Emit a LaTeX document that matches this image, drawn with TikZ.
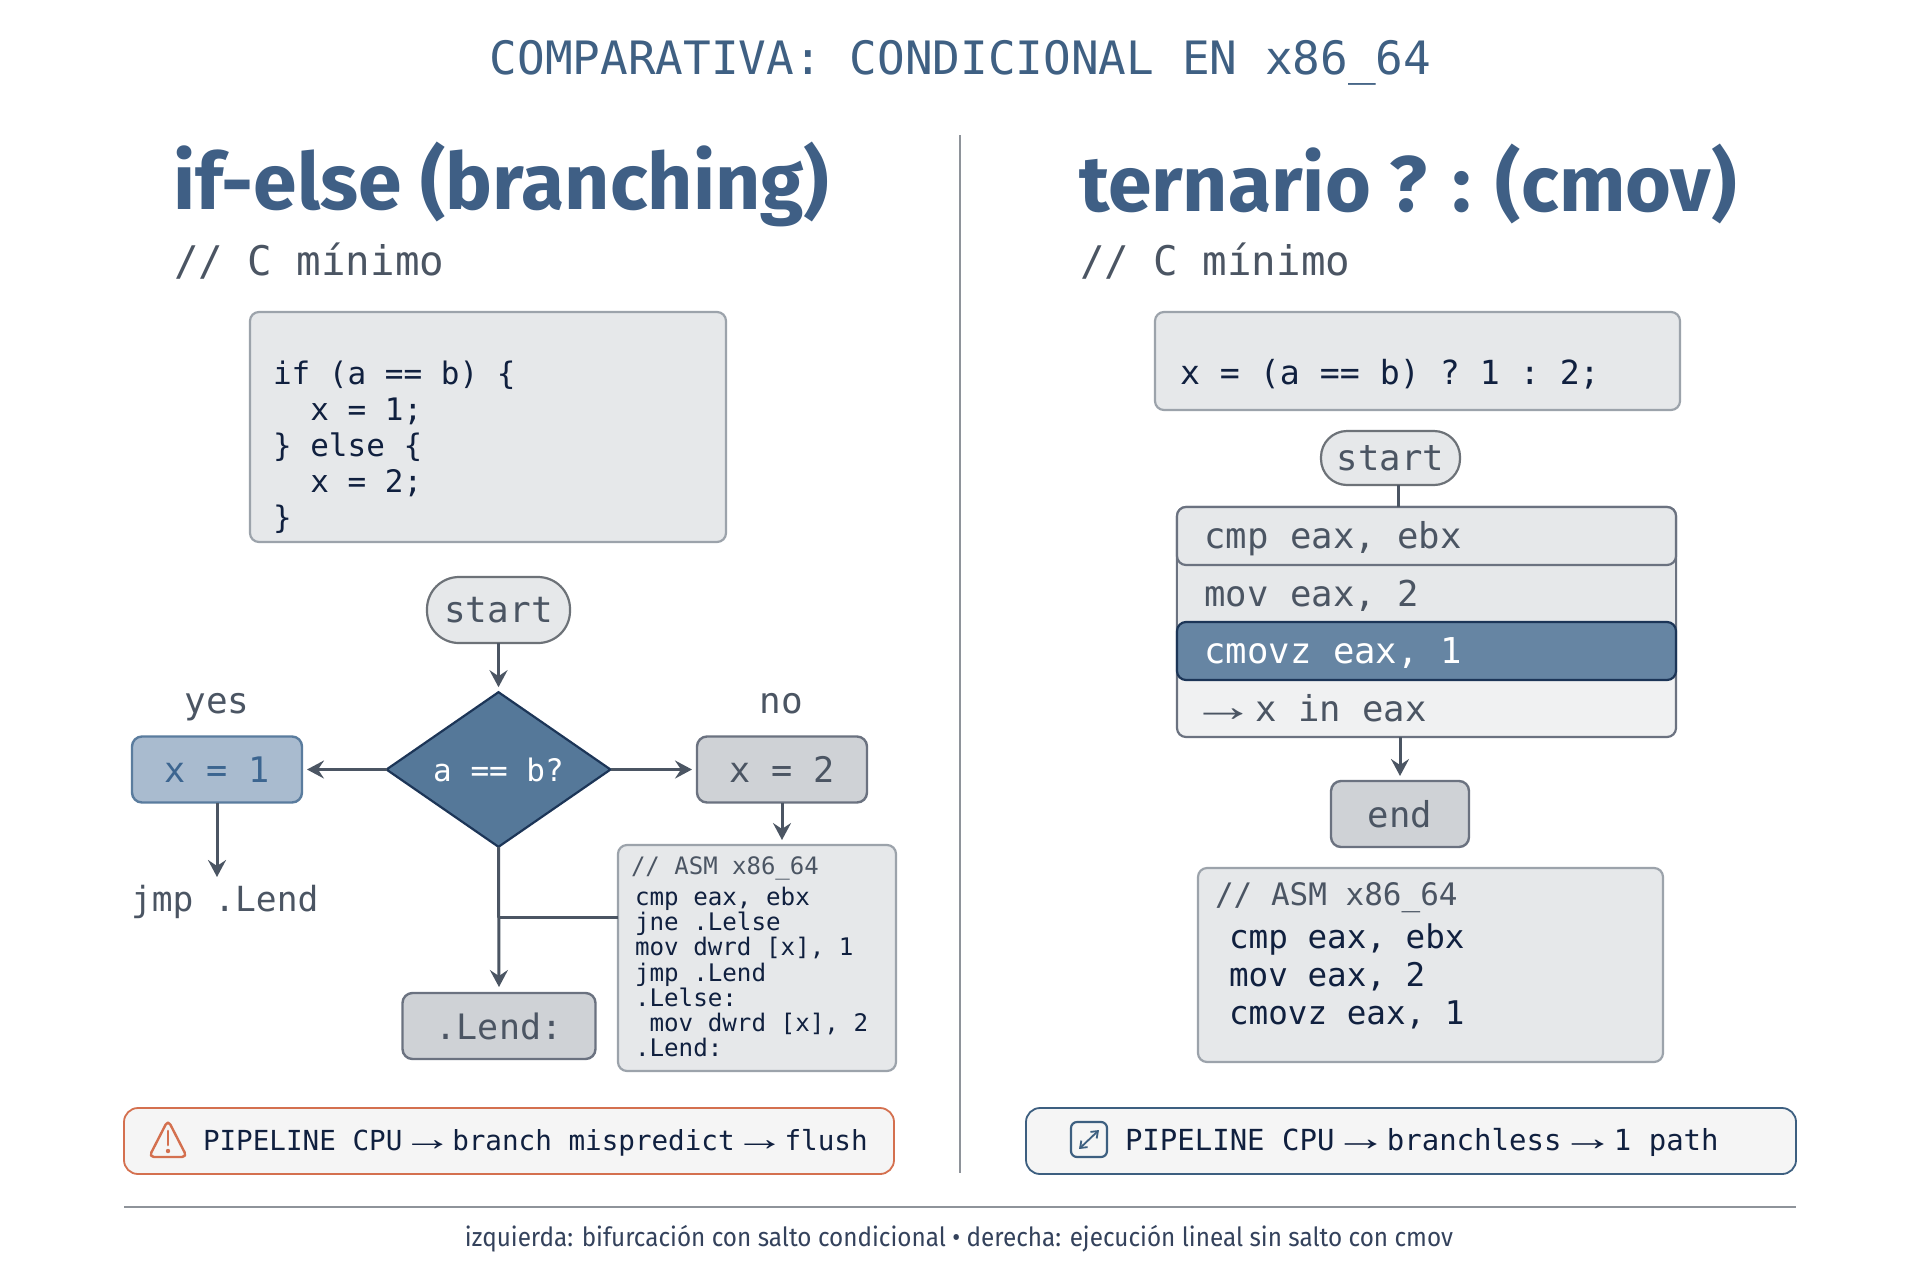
\documentclass[tikz,border=0pt]{standalone}
\usepackage{fontspec}
\usepackage{graphicx}
\setmainfont{Fira Sans}
\setmonofont{DejaVu Sans Mono}
\newfontfamily\footf[FakeStretch=0.92]{Fira Sans}
\newfontfamily\arrf{Liberation Sans}
\newcommand\longarr{\makebox[0.602em][c]{\scalebox{1.85}[1.25]{\arrf →}}}
\usetikzlibrary{arrows.meta,shapes.geometric,calc}
\definecolor{navy}{HTML}{10203F}
\definecolor{slate}{HTML}{4B5563}
\definecolor{head}{HTML}{3F5F85}
\definecolor{titlec}{HTML}{3F6083}
\definecolor{boxf}{HTML}{E6E8EA}
\definecolor{boxd}{HTML}{9CA3AB}
\definecolor{greyf}{HTML}{CFD2D6}
\definecolor{greyd}{HTML}{6B7280}
\definecolor{bluef}{HTML}{A9BBCF}
\definecolor{blued}{HTML}{5A7C9E}
\definecolor{bluet}{HTML}{3C6590}
\definecolor{deep}{HTML}{557899}
\definecolor{deepd}{HTML}{1C3557}
\definecolor{bannerd}{HTML}{3D5F80}
\definecolor{orange}{HTML}{D4704F}
\definecolor{pill}{HTML}{F5F5F5}
\definecolor{rule}{HTML}{8E939A}
\tikzset{
  mono/.style 2 args={font=\ttfamily\fontsize{#1pt}{#2pt}\selectfont},
  txt/.style={inner sep=0pt,outer sep=0pt},
  dims/.style 2 args={minimum width=#1*0.5pt,minimum height=#2*0.5pt,inner sep=0pt,outer sep=0pt},
  panel/.style={draw=boxd,fill=boxf,line width=1.1pt,rounded corners=4.5pt},
  solidgrey/.style={draw=greyd,fill=greyf,line width=1.2pt,rounded corners=5pt,text=slate},
  soliddeep/.style={draw=deepd,fill=deep,line width=1.1pt,text=white},
  link/.style={draw=slate,line width=1.5pt},
  arr/.style={link,-{Stealth[length=8.5pt,width=9pt,inset=3pt]}},
  banner/.style={line width=.9pt,fill=pill,rounded corners=7pt},
  row/.style={inner ysep=0pt,inner xsep=0pt,outer sep=0pt,text width=222pt,align=flush left,text height=14pt,text depth=1.8pt}
}
\begin{document}
\begin{tikzpicture}[x=0.5pt,y=-0.5pt]
\fill[white] (0,0) rectangle (1920,1280);
\useasboundingbox (0,0) rectangle (1920,1280);

\node[txt,mono={23}{24},text=titlec] (title) at (960.5,63) {COMPARATIVA: CONDICIONAL EN x86\_64};
\node[txt,anchor=west,font=\fontsize{39.3pt}{44pt}\selectfont\bfseries,text=head] (headl) at (173,184) {if-else (branching)};
\node[txt,anchor=west,font=\fontsize{39.3pt}{44pt}\selectfont\bfseries,text=head] (headr) at (1079,184) {ternario ? : (cmov)};
\node[txt,anchor=mid west,mono={20.4}{24},text=slate] (cl) at (174,270) {// C mínimo};
\node[txt,anchor=mid west,mono={20.4}{24},text=slate] (cr) at (1080,270) {// C mínimo};

\coordinate (divt) at (960,135);
\coordinate (divb) at (960,1173);
\draw[draw=rule,line width=1pt] (divt) -- (divb);

% left
\node[panel,dims={476}{230}] (codel) at (488,427) {};
\node[txt,anchor=west,align=left,mono={15.5}{18},text=navy] (codeltxt) at (273,447)
  {if (a == b) \{\\\phantom{xx}x = 1;\\\} else \{\\\phantom{xx}x = 2;\\\}};
\node[dims={143}{66},draw=boxd!70!black,fill=boxf,line width=1.1pt,rounded corners=16pt,mono={18}{20},text=slate] (startl) at (498.5,610) {start};
\node[diamond,soliddeep,dims={224}{144},mono={15.5}{18}] (dia) at (498.5,769.5) {a == b?};
\node[dims={170}{66},draw=blued,fill=bluef,line width=1.2pt,rounded corners=5pt,mono={17.6}{20},text=bluet] (xone) at (217,769.5) {x = 1};
\node[solidgrey,dims={170}{66},mono={17.6}{20}] (xtwo) at (782,769.5) {x = 2};
\node[txt,anchor=mid,mono={18}{20},text=slate] (yes) at (217,708) {yes};
\node[txt,anchor=mid,mono={18}{20},text=slate] (no) at (781,708) {no};
\node[txt,anchor=mid west,mono={17.3}{20},text=slate] (jmp) at (131,906) {jmp .Lend};
\node[solidgrey,dims={193}{66},mono={17.5}{20}] (lend) at (499,1026) {.Lend:};
\node[panel,dims={278}{226}] (asml) at (757,958) {};
\node[txt,anchor=mid west,mono={12}{14},text=slate] (asmlh) at (631,869) {// ASM x86\_64};
\node[txt,anchor=west,align=left,mono={12.1}{12.6},text=navy] (asmlc) at (635,972)
  {cmp eax, ebx\\jne .Lelse\\mov dwrd [x], 1\\jmp .Lend\\.Lelse:\\\phantom{x}mov dwrd [x], 2\\.Lend:};
\coordinate (joinl) at (dia.south |- 0,917);

\draw[arr,shorten >=2.5pt] (startl) -- (dia.north);
\draw[arr,shorten >=2.5pt] (dia.west) -- (xone.east);
\draw[arr,shorten >=2.5pt] (dia.east) -- (xtwo.west);
\draw[arr] (xone.south) -- ($(xone.south |- jmp.north)+(0,-8)$);
\draw[arr,shorten >=2.5pt] (xtwo.south) -- (xtwo.south |- asml.north);
\draw[arr,shorten >=3pt] (dia.south) -- (lend.north);
\draw[link] (asml.west |- joinl) -- (joinl);

\node[banner,draw=orange,dims={770}{66}] (warn) at (509,1141) {};
\draw[orange,line width=1.2pt,line join=round,rounded corners=2.5pt] (168,1120) -- (187,1157) -- (149,1157) -- cycle;
\draw[orange,line width=1.3pt,line cap=round] (168,1131) -- (168,1145);
\fill[orange] (168,1151) circle (1.1pt);
\node[txt,anchor=mid west,mono={13.8}{16},text=navy] (warnt) at (203,1145) {PIPELINE CPU \longarr{} branch mispredict \longarr{} flush};

% right
\node[panel,dims={525}{98}] (coder) at (1417.5,361) {};
\node[txt,anchor=mid west,mono={16.6}{18},text=navy] (codertxt) at (1180,379) {x = (a == b) ? 1 : 2;};
\node[dims={139}{54},draw=boxd!70!black,fill=boxf,line width=1.1pt,rounded corners=13pt,mono={17.8}{20},text=slate] (startr) at (1390.5,458) {start};

\node[draw=greyd,fill=boxf!60!white,line width=1.1pt,rounded corners=4.5pt,dims={499}{230}] (stack) at (1426.5,622) {};
\fill[boxf] (stack.west |- 0,540) rectangle (stack.east |- 0,640);
\draw[greyd,line width=1.1pt] (stack.west |- 0,540) -- (stack.west |- 0,640) (stack.east |- 0,540) -- (stack.east |- 0,640);
\node[draw=greyd,fill=boxf,line width=1.1pt,rounded corners=4.5pt,dims={499}{58},row,mono={17.8}{20},text=slate] (rowa) at (1426.5,536) {cmp eax, ebx};
\node[dims={499}{57},row,mono={17.8}{20},text=slate] (rowb) at (1426.5,594) {mov eax, 2};
\node[draw=deepd,fill=deep!90!white,line width=1.1pt,rounded corners=4.5pt,dims={499}{58},row,mono={17.8}{20},text=white] (rowc) at (1426.5,651) {cmovz eax, 1};
\node[dims={499}{57},row,mono={17.8}{20},text=slate] (rowd) at (1426.5,709) {\hspace*{.22em}\longarr{} x in eax};

\coordinate (joinr) at (1398,0);
\draw[link] (startr.south -| joinr) -- (stack.north -| joinr);
\node[solidgrey,dims={138}{66},mono={17.8}{20}] (endb) at (1400,814) {end};
\draw[arr,shorten >=2.5pt] (endb.north |- stack.south) -- (endb.north);
\node[panel,dims={465}{194}] (asmr) at (1430.5,965) {};
\node[txt,anchor=mid west,mono={15.5}{18},text=slate] (asmrh) at (1215,900) {// ASM x86\_64};
\node[txt,anchor=west,align=left,mono={16.3}{19},text=navy] (asmrc) at (1229,976)
  {cmp eax, ebx\\mov eax, 2\\cmovz eax, 1};

\node[banner,draw=bannerd,dims={770}{66}] (flow) at (1411,1141) {};
\draw[bannerd,line width=1.1pt,rounded corners=3pt] (1071,1122) rectangle (1107,1157);
\draw[bannerd,line width=.9pt,{Straight Barb[length=3pt,width=4.5pt]}-{Straight Barb[length=3pt,width=4.5pt]}] (1079,1149) -- (1099,1130);
\node[txt,anchor=mid west,mono={14.5}{16},text=navy] (flowt) at (1125,1145) {PIPELINE CPU \longarr{} branchless \longarr{} 1 path};

\coordinate (rulea) at (124,1207);
\coordinate (ruleb) at (1796,1207);
\draw[draw=rule,line width=1pt] (rulea) -- (ruleb);
\node[txt,font=\footf\fontsize{13.2pt}{14pt}\selectfont,text=navy!85!white] (foot) at (959,1239) {izquierda: bifurcación con salto condicional • derecha: ejecución lineal sin salto con cmov};
\end{tikzpicture}
\end{document}
